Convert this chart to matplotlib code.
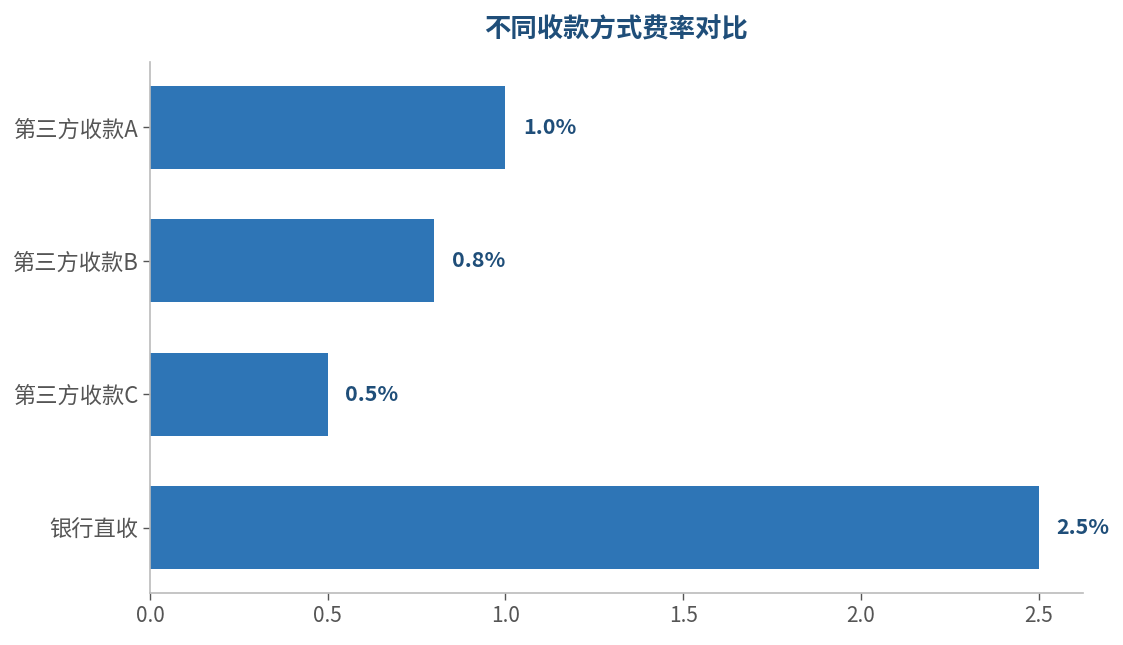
import matplotlib
matplotlib.use("Agg")
import matplotlib.pyplot as plt

plt.rcParams['font.family'] = ['Noto Sans CJK SC', 'DejaVu Sans']

categories = ['第三方收款A', '第三方收款B', '第三方收款C', '银行直收']
rates = [1.0, 0.8, 0.5, 2.5]
value_labels = ['1.0%', '0.8%', '0.5%', '2.5%']
title = '不同收款方式费率对比'

fig = plt.figure(figsize=(11.23, 6.45), dpi=100)
ax = fig.add_axes([150/1123, 1-593/645, (1083-150)/1123, (593-62)/645])

ypos = list(range(len(categories)))
ax.barh(ypos, rates, height=0.62, color='#2E75B6')
ax.set_yticks(ypos)
ax.set_yticklabels(categories)
ax.invert_yaxis()
ax.set_xlim(0, max(rates) * 1.05)

for y, v, lab in zip(ypos, rates, value_labels):
    ax.text(v + 0.05, y, lab, va='center', ha='left', fontsize=15.5,
            fontweight='bold', color='#1F4E79')

for s in ['top', 'right']:
    ax.spines[s].set_visible(False)
for s in ['left', 'bottom']:
    ax.spines[s].set_color('#BBBBBB')
    ax.spines[s].set_linewidth(1.2)
ax.tick_params(axis='both', colors='#555555', labelsize=15, length=5, width=1)
ax.tick_params(axis='y', labelsize=16)
ax.tick_params(axis='x', pad=4)

fig.text(616/1123, 1-30/645, title, ha='center', va='center', fontsize=19,
         fontweight='bold', color='#1F4E79')

fig.savefig('out.png', dpi=100)
